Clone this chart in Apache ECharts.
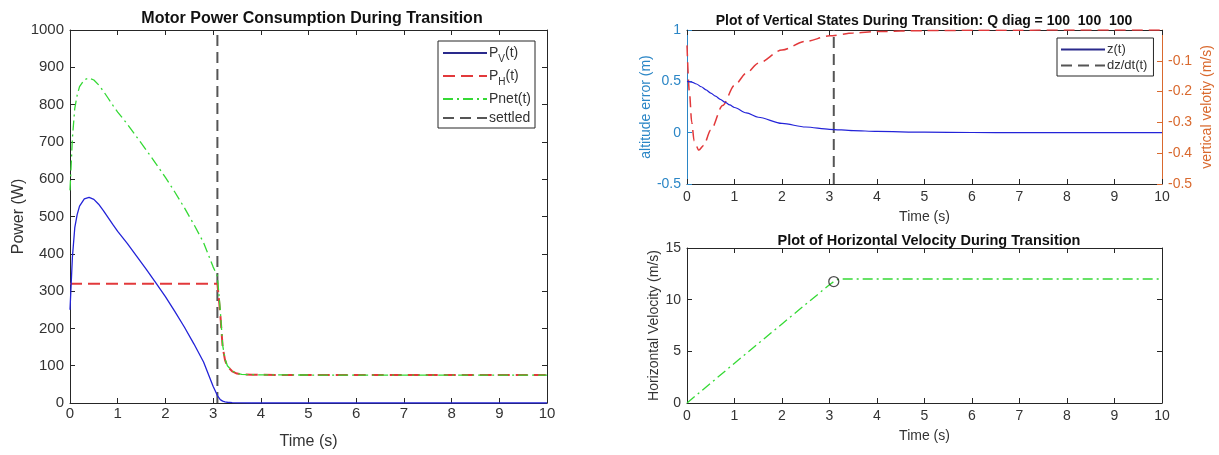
<!DOCTYPE html>
<html>
<head>
<meta charset="utf-8">
<script src="https://cdn.jsdelivr.net/npm/echarts@6/dist/echarts.min.js"></script>
<style>
  html, body { margin: 0; padding: 0; background: #fff; }
  #chart { width: 1219px; height: 455px; }
</style>
</head>
<body>
<div id="chart"></div>
<script>
// ---- Motor power during transition (left panel) ----
const powerTime = [0, 0.05, 0.1, 0.15, 0.2, 0.3, 0.4, 0.5, 0.6, 0.7, 0.8, 0.9, 1.0, 1.2, 1.4, 1.6, 1.8, 2.0, 2.2, 2.4, 2.6, 2.8, 3.0, 3.09, 3.15, 3.2, 3.25, 3.3, 3.4, 3.5, 3.6, 3.8, 4, 5, 6, 7, 8, 9, 10];
const powerVertical = [250, 390, 470, 505, 528, 547, 551, 546, 533, 516, 497, 478, 460, 428, 393, 358, 322, 285, 245, 203, 158, 110, 45, 20, 9, 5, 3, 2, 1, 0.5, 0.2, 0, 0, 0, 0, 0, 0, 0, 0];
const powerHorizontal = [320, 320, 320, 320, 320, 320, 320, 320, 320, 320, 320, 320, 320, 320, 320, 320, 320, 320, 320, 320, 320, 320, 320, 320, 240, 150, 115, 98, 85, 79, 77, 76, 75.5, 75, 75, 75, 75, 75, 75];
const powerNet = [570, 710, 790, 825, 848, 867, 871, 866, 853, 836, 817, 798, 780, 748, 713, 678, 642, 605, 565, 523, 478, 430, 365, 340, 249, 155, 118, 100, 86, 79.5, 77, 76, 75.5, 75, 75, 75, 75, 75, 75];
const settleTime = 3.09;

// ---- Vertical states (top right panel) ----
const altTime = [0, 0.1, 0.2, 0.3, 0.4, 0.5, 0.6, 0.7, 0.8, 0.9, 1.0, 1.25, 1.5, 2.0, 2.5, 3.0, 3.5, 4.0, 5.0, 6.0, 7.0, 8.0, 10.0];
const altitudeError = [0.5, 0.493, 0.474, 0.447, 0.417, 0.386, 0.355, 0.325, 0.297, 0.27, 0.245, 0.193, 0.15, 0.09, 0.055, 0.033, 0.02, 0.012, 0.0045, 0.0017, 0.0006, 0.0002, 0];
const velTime = [0, 0.05, 0.1, 0.15, 0.25, 0.35, 0.5, 0.75, 1.0, 1.25, 1.5, 2.0, 2.5, 3.0, 3.5, 4.0, 5.0, 6.0, 7.0, 8.0, 10.0];
const verticalVelocity = [-0.05, -0.2, -0.3, -0.36, -0.39, -0.375, -0.325, -0.245, -0.18, -0.14, -0.108, -0.065, -0.037, -0.019, -0.01, -0.005, -0.002, -0.001, -0.0005, 0, 0];

// ---- Horizontal velocity (bottom right panel) ----
const hvTime = [0, 1, 2, 3, 3.09, 3.2, 10];
const hvVelocity = [0, 3.85, 7.65, 11.45, 11.75, 12, 12];
const hvSettleIndex = 4;

// ---- Axis ticks ----
const timeTicks = { min: 0, max: 10, interval: 1 };
const powerTicks = { min: 0, max: 1000, interval: 100 };
const altTicks = { min: -0.5, max: 1, interval: 0.5 };
const velTicks = { min: -0.5, max: 0, interval: 0.1 };
const hvTicks = { min: 0, max: 15, interval: 5 };

const FONT = '"Liberation Sans", Arial, Helvetica, sans-serif';
const INK = '#333333';
const BLUE = '#2323d8';
const NAVY = '#2a2a8c';
const RED = '#e2393b';
const GREEN = '#35d935';
const AXBLUE = '#2b86c6';
const AXORANGE = '#d9692e';

const zip = (xs, ys) => xs.map((x, i) => [x, ys[i]]);
const plain = v => String(Math.round(v * 1000) / 1000);

function axisLine(color) {
  return { show: true, onZero: false, lineStyle: { color: color || '#262626', width: 1 } };
}
function boxAxis(gridIndex, ticks, position, color) {
  return Object.assign({
    type: 'value', gridIndex, position,
    axisLine: axisLine(color),
    axisTick: { show: true, inside: true, length: 5, lineStyle: { color: color || '#262626' } },
    axisLabel: { show: false },
    splitLine: { show: false }
  }, ticks);
}
function labelAxis(gridIndex, ticks, position, opts) {
  const color = opts.color || '#262626';
  return Object.assign({
    type: 'value', gridIndex, position,
    name: opts.name, nameLocation: 'middle', nameGap: opts.nameGap,
    nameRotate: opts.nameRotate,
    nameTextStyle: { fontFamily: FONT, fontSize: opts.nameSize || 14, color: opts.nameColor || INK },
    axisLine: axisLine(color),
    axisTick: { show: true, inside: true, length: 5, lineStyle: { color } },
    axisLabel: Object.assign({ fontFamily: FONT, fontSize: 14, color: opts.labelColor || INK,
      margin: opts.margin, formatter: plain }, opts.label || {}),
    splitLine: { show: false }
  }, ticks);
}

const chart = echarts.init(document.getElementById('chart'), null, { renderer: 'canvas' });

const legendBase = {
  orient: 'vertical',
  backgroundColor: '#fff', borderColor: '#262626', borderWidth: 1, borderRadius: 0,
  selectedMode: false,
  itemStyle: { opacity: 0 }
};

const option = {
  animation: false,
  backgroundColor: '#ffffff',
  textStyle: { fontFamily: FONT },
  title: [
    { text: 'Motor Power Consumption During Transition', left: 307, top: 6, textAlign: 'center',
      textStyle: { fontFamily: FONT, fontSize: 16, fontWeight: 'bold', color: '#111' } },
    { text: 'Plot of Vertical States During Transition: Q diag = 100  100  100', left: 919, top: 9, textAlign: 'center',
      textStyle: { fontFamily: FONT, fontSize: 14, fontWeight: 'bold', color: '#111' } },
    { text: 'Plot of Horizontal Velocity During Transition', left: 924, top: 228, textAlign: 'center',
      textStyle: { fontFamily: FONT, fontSize: 14.5, fontWeight: 'bold', color: '#111' } }
  ],
  grid: [
    { left: 70, top: 30, width: 477, height: 374 },
    { left: 687, top: 30, width: 475, height: 154 },
    { left: 687, top: 248, width: 475, height: 155 }
  ],
  xAxis: [
    labelAxis(0, timeTicks, 'bottom', { name: 'Time (s)', nameGap: 31, nameSize: 16, margin: 3, label: { fontSize: 15 } }),
    boxAxis(0, timeTicks, 'top'),
    labelAxis(1, timeTicks, 'bottom', { name: 'Time (s)', nameGap: 26, margin: 6 }),
    boxAxis(1, timeTicks, 'top'),
    labelAxis(2, timeTicks, 'bottom', { name: 'Time (s)', nameGap: 26, margin: 6 }),
    boxAxis(2, timeTicks, 'top')
  ],
  yAxis: [
    labelAxis(0, powerTicks, 'left', { name: 'Power (W)', nameGap: 40, nameSize: 16, nameRotate: 90, margin: 6, label: { fontSize: 15 } }),
    boxAxis(0, powerTicks, 'right'),
    labelAxis(1, altTicks, 'left', { name: 'altitude error (m)', nameGap: 34, nameRotate: 90, margin: 6,
      color: AXBLUE, labelColor: AXBLUE, nameColor: AXBLUE }),
    labelAxis(1, velTicks, 'right', { name: 'vertical velotiy (m/s)', nameGap: 38, nameRotate: 90, margin: 6,
      color: AXORANGE, labelColor: AXORANGE, nameColor: AXORANGE, label: { showMaxLabel: false } }),
    labelAxis(2, hvTicks, 'left', { name: 'Horizontal Velocity (m/s)', nameGap: 24, nameRotate: 90, margin: 6 }),
    boxAxis(2, hvTicks, 'right')
  ],
  legend: [
    Object.assign({}, legendBase, {
      data: [{ name: 'PV(t)', lineStyle: { color: NAVY } }, 'PH(t)', 'Pnet(t)', 'settled'],
      left: 438, top: 41,
      padding: [5, 4, 3, 4], itemGap: 5, itemWidth: 44, itemHeight: 14,
      formatter: function (name) {
        if (name === 'PV(t)') return '{n|P}{s|V}{n|(t)}';
        if (name === 'PH(t)') return '{n|P}{s|H}{n|(t)}';
        return '{n|' + name + '}';
      },
      textStyle: {
        fontFamily: FONT, color: INK, padding: [0, 0, 0, -3],
        rich: {
          n: { fontFamily: FONT, fontSize: 14, color: INK },
          s: { fontFamily: FONT, fontSize: 10, color: INK, padding: [12, 0, 0, 0] }
        }
      }
    }),
    Object.assign({}, legendBase, {
      data: [{ name: 'z(t)', lineStyle: { color: NAVY } }, 'dz/dt(t)'],
      left: 1057, top: 38,
      padding: [5, 6, 4, 3], itemGap: 3, itemWidth: 44, itemHeight: 14,
      textStyle: { fontFamily: FONT, fontSize: 13, color: INK, padding: [0, 0, 0, -3] }
    })
  ],
  series: [
    // left panel
    { name: 'PV(t)', type: 'line', xAxisIndex: 0, yAxisIndex: 0, showSymbol: false, symbol: 'none',
      data: zip(powerTime, powerVertical), lineStyle: { color: BLUE, width: 1.3 }, itemStyle: { color: BLUE }, z: 4 },
    { name: 'PH(t)', type: 'line', xAxisIndex: 0, yAxisIndex: 0, showSymbol: false, symbol: 'none',
      data: zip(powerTime, powerHorizontal), lineStyle: { color: RED, width: 2, type: [12, 6] }, itemStyle: { color: RED }, z: 3 },
    { name: 'Pnet(t)', type: 'line', xAxisIndex: 0, yAxisIndex: 0, showSymbol: false, symbol: 'none',
      data: zip(powerTime, powerNet), lineStyle: { color: GREEN, width: 1.3, type: [10, 4, 2, 4] }, itemStyle: { color: GREEN }, z: 5 },
    { name: 'settled', type: 'line', xAxisIndex: 0, yAxisIndex: 0, showSymbol: false, symbol: 'none',
      data: [[settleTime, powerTicks.min], [settleTime, powerTicks.max]],
      lineStyle: { color: '#555', width: 2, type: [11, 6] }, itemStyle: { color: '#333' }, z: 2 },
    // top right panel
    { name: 'z(t)', type: 'line', xAxisIndex: 2, yAxisIndex: 2, showSymbol: false, symbol: 'none',
      smooth: 0.3, smoothMonotone: 'x',
      data: zip(altTime, altitudeError), lineStyle: { color: BLUE, width: 1.2 }, itemStyle: { color: BLUE }, z: 4 },
    { name: 'vz', type: 'line', xAxisIndex: 2, yAxisIndex: 3, showSymbol: false, symbol: 'none',
      smooth: 0.3, smoothMonotone: 'x',
      data: zip(velTime, verticalVelocity), lineStyle: { color: RED, width: 1.5, type: [11, 6] }, itemStyle: { color: RED }, z: 3 },
    { name: 'dz/dt(t)', type: 'line', xAxisIndex: 2, yAxisIndex: 2, showSymbol: false, symbol: 'none',
      data: [[settleTime, altTicks.min], [settleTime, altTicks.max]],
      lineStyle: { color: '#555', width: 2, type: [11, 6] }, itemStyle: { color: '#333' }, z: 2 },
    // bottom right panel
    { name: 'hv', type: 'line', xAxisIndex: 4, yAxisIndex: 4, showSymbol: false, symbol: 'none',
      data: zip(hvTime, hvVelocity), lineStyle: { color: GREEN, width: 1.3, type: [10, 4, 2, 4] }, itemStyle: { color: GREEN }, z: 3 },
    { name: 'hvSettle', type: 'scatter', xAxisIndex: 4, yAxisIndex: 4, symbol: 'circle', symbolSize: 10,
      data: [[hvTime[hvSettleIndex], hvVelocity[hvSettleIndex]]],
      itemStyle: { color: 'rgba(0,0,0,0)', borderColor: '#222', borderWidth: 1.3 }, z: 5 }
  ]
};

chart.setOption(option);
</script>
</body>
</html>
